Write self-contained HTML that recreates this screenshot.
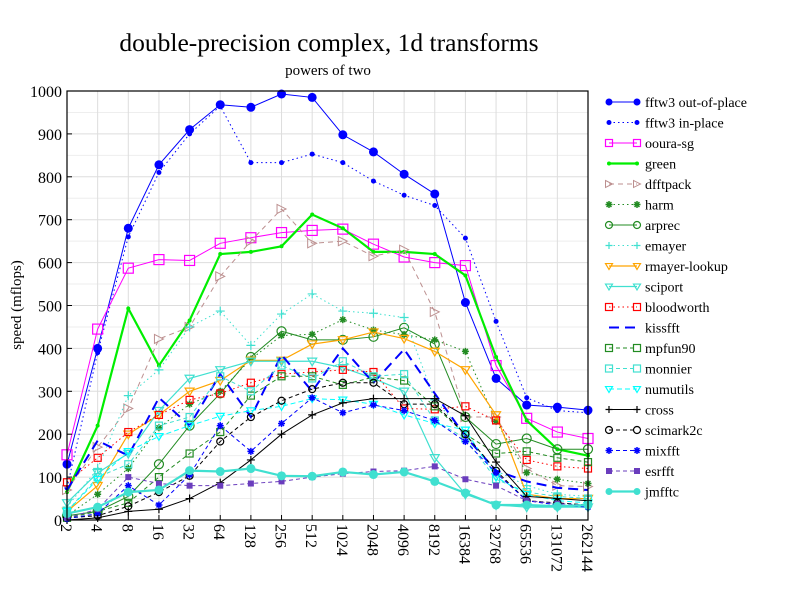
<!DOCTYPE html>
<html><head><meta charset="utf-8"><style>
body{margin:0;background:#fff;}
svg{display:block;font-family:"Liberation Serif",serif;}
</style></head><body>
<svg id="chart" width="792" height="612" viewBox="0 0 792 612" xmlns="http://www.w3.org/2000/svg">
<text x="329" y="51" font-size="25.5" text-anchor="middle">double-precision complex, 1d transforms</text>
<text x="328" y="75" font-size="15" text-anchor="middle">powers of two</text>
<text transform="translate(21,305) rotate(-90)" font-size="15" text-anchor="middle">speed (mflops)</text>
<g id="grid"></g>
<g id="series"></g>
<g id="axes"></g>
<g id="legend"></g>
</svg>
<script>
const categories=["2","4","8","16","32","64","128","256","512","1024","2048","4096","8192","16384","32768","65536","131072","262144"];
const yTicks=[0,100,200,300,400,500,600,700,800,900,1000];
const seriesNames=["fftw3 out-of-place","fftw3 in-place","ooura-sg","green","dfftpack","harm","arprec","emayer","rmayer-lookup","sciport","bloodworth","kissfft","mpfun90","monnier","numutils","cross","scimark2c","mixfft","esrfft","jmfftc"];
const fftw3Out=[130,400,680,828,910,968,962,993,985,898,858,806,760,507,330,268,263,256];
const fftw3In=[75,390,660,810,900,965,833,833,853,833,790,757,733,657,463,285,255,250];
const ooura=[152,445,587,607,605,645,658,670,675,678,643,613,600,593,360,237,205,190];
const green=[65,220,493,360,465,620,625,638,712,680,625,625,620,570,380,232,165,150];
const dfftpack=[70,170,260,422,450,568,650,725,645,650,615,630,485,240,240,120,80,78];
const harm=[10,60,120,215,270,300,375,430,433,467,443,432,420,393,230,110,95,85];
const arprec=[10,20,55,130,220,295,380,440,420,420,427,448,410,240,177,190,165,165];
const emayer=[30,120,290,350,450,487,407,480,527,487,482,472,280,200,115,80,60,55];
const rmayer=[20,80,200,245,300,325,372,372,410,420,438,423,393,350,245,60,50,50];
const sciport=[40,110,155,255,330,350,370,370,370,355,330,300,145,60,35,30,30,30];
const bloodworth=[88,145,205,245,280,295,320,340,345,350,345,260,258,265,232,140,125,120];
const kissfft=[70,185,150,285,220,340,240,385,300,400,320,398,295,195,115,90,75,70];
const mpfun90=[5,20,40,100,155,205,290,335,335,315,333,325,265,200,155,160,145,135];
const monnier=[20,100,130,220,240,335,300,360,330,370,335,340,232,190,95,65,55,50];
const numutils=[20,95,160,195,220,242,255,265,283,280,270,245,225,210,100,60,45,40];
const cross=[0,5,20,25,50,87,140,200,245,273,283,283,283,243,135,55,50,45];
const scimark=[5,10,32,65,103,183,240,278,305,320,320,270,270,200,115,45,40,35];
const mixfft=[3,15,80,35,105,220,160,225,285,250,268,255,232,183,110,45,35,30];
const esrfft=[5,25,100,85,80,80,85,90,100,108,113,115,125,95,80,45,38,35];
const jmfftc=[15,30,65,70,115,113,120,103,102,112,106,112,90,63,35,35,32,35];

const NS="http://www.w3.org/2000/svg";
const X0=67,X1=588,Y0=520,Y1=91,VMAX=1000;
function xs(i){return X0+(X1-X0)*i/(categories.length-1);}
function ys(v){return Y0-(Y0-Y1)*v/VMAX;}
function mk(tag,attrs,parent){const e=document.createElementNS(NS,tag);for(const k in attrs)e.setAttribute(k,attrs[k]);parent.appendChild(e);return e;}

const styles=[
 {d:fftw3Out,c:"#0000ff",w:1,da:"",m:"fcircle",r:4.5},
 {d:fftw3In,c:"#0000ff",w:1,da:"1.5,3",m:"fcircle",r:2.5},
 {d:ooura,c:"#ff00ff",w:1,da:"",m:"osquare",r:5},
 {d:green,c:"#00ee00",w:2.2,da:"",m:"fcircle",r:2},
 {d:dfftpack,c:"#bc8f8f",w:1,da:"5,4",m:"otri",r:4.5},
 {d:harm,c:"#228b22",w:1,da:"1.5,3",m:"star",r:3.5},
 {d:arprec,c:"#228b22",w:1,da:"",m:"ocircle",r:4.5},
 {d:emayer,c:"#40e0d0",w:1,da:"1.5,3",m:"plus",r:4.5},
 {d:rmayer,c:"#ffa500",w:1.2,da:"",m:"dtri",r:4.5},
 {d:sciport,c:"#40e0d0",w:1.2,da:"",m:"dtri",r:4.5},
 {d:bloodworth,c:"#ff0000",w:1,da:"1.5,3",m:"osquare",r:3.5},
 {d:kissfft,c:"#0000ff",w:2,da:"10,6",m:"none",r:0},
 {d:mpfun90,c:"#228b22",w:1,da:"4,3",m:"osquare",r:3.5},
 {d:monnier,c:"#40e0d0",w:1,da:"4,3",m:"osquare",r:3.5},
 {d:numutils,c:"#00ffff",w:1,da:"5,3",m:"dtri",r:4},
 {d:cross,c:"#000000",w:1,da:"",m:"plus",r:4},
 {d:scimark,c:"#000000",w:1,da:"4,3",m:"ocircle",r:3.5},
 {d:mixfft,c:"#0000ff",w:1,da:"4,3",m:"star",r:3.5},
 {d:esrfft,c:"#6a3dbd",w:1,da:"4,3",m:"fsquare",r:3},
 {d:jmfftc,c:"#40e0d0",w:2.2,da:"",m:"fcircle",r:4.5}
];

function marker(g,type,x,y,r,c){
 if(type==="fcircle")return mk("circle",{cx:x,cy:y,r:r,fill:c},g);
 if(type==="ocircle")return mk("circle",{cx:x,cy:y,r:r,fill:"none",stroke:c,"stroke-width":1.2},g);
 if(type==="osquare")return mk("rect",{x:x-r,y:y-r,width:2*r,height:2*r,fill:"none",stroke:c,"stroke-width":1.2},g);
 if(type==="fsquare")return mk("rect",{x:x-r,y:y-r,width:2*r,height:2*r,fill:c},g);
 if(type==="otri")return mk("polygon",{points:`${x-r},${y-r} ${x+r},${y} ${x-r},${y+r}`,fill:"none",stroke:c,"stroke-width":1},g);
 if(type==="dtri")return mk("polygon",{points:`${x-r},${y-r*0.7} ${x+r},${y-r*0.7} ${x},${y+r}`,fill:"none",stroke:c,"stroke-width":1.2},g);
 if(type==="plus")return mk("path",{d:`M${x-r},${y}H${x+r}M${x},${y-r}V${y+r}`,stroke:c,"stroke-width":1.2},g);
 if(type==="star")return mk("path",{d:`M${x-r},${y}H${x+r}M${x},${y-r}V${y+r}M${x-r*0.7},${y-r*0.7}L${x+r*0.7},${y+r*0.7}M${x-r*0.7},${y+r*0.7}L${x+r*0.7},${y-r*0.7}`,stroke:c,"stroke-width":1.5},g);
 return null;
}

const grid=document.getElementById("grid");
for(let v=0;v<=VMAX;v+=50){
 const ln=mk("line",{x1:X0,x2:X1,y1:ys(v),y2:ys(v),stroke:v%100?"#eeeeee":"#dddddd","stroke-width":1},grid);
 
 
}
categories.forEach((c,i)=>{
 const ln=mk("line",{x1:xs(i),x2:xs(i),y1:Y0,y2:Y1,stroke:"#dddddd","stroke-width":1},grid);
 
 
});

const sg=document.getElementById("series");
styles.forEach((s,k)=>{
 const g=mk("g",{},sg);
 
 
 const pts=s.d.map((v,i)=>xs(i)+","+ys(v)).join(" ");
 const pl=mk("polyline",{points:pts,fill:"none",stroke:s.c,"stroke-width":s.w,"stroke-dasharray":s.da},g);
 
 
 s.d.forEach((v,i)=>{
  const m=marker(g,s.m,xs(i),ys(v),s.r,s.c);
  if(m){
   
   
  }
 });
});

const ax=document.getElementById("axes");
const frame=mk("rect",{x:X0,y:Y1,width:X1-X0,height:Y0-Y1,fill:"none",stroke:"#000","stroke-width":1.2},ax);


yTicks.forEach(v=>{
 mk("line",{x1:X0,x2:X0+5,y1:ys(v),y2:ys(v),stroke:"#000"},ax);
 const t=mk("text",{x:X0-5,y:ys(v)+6,"font-size":16,"text-anchor":"end"},ax);
 t.textContent=v;
 
 
});
categories.forEach((c,i)=>{
 mk("line",{x1:xs(i),x2:xs(i),y1:Y0,y2:Y0-5,stroke:"#000"},ax);
 const t=mk("text",{transform:`translate(${xs(i)-6},${Y0+4}) rotate(90)`,"font-size":16,"text-anchor":"start"},ax);
 t.textContent=c;
 
 
});

const lg=document.getElementById("legend");
styles.forEach((s,k)=>{
 const y=102+k*20.5;
 const g=mk("g",{},lg);
 
 
 mk("line",{x1:609,x2:637,y1:y,y2:y,stroke:s.c,"stroke-width":s.w,"stroke-dasharray":s.da},g);
 marker(g,s.m,609,y,Math.min(s.r,3.5),s.c);
 marker(g,s.m,637,y,Math.min(s.r,3.5),s.c);
 const t=mk("text",{x:645,y:y+5,"font-size":14},g);
 t.textContent=seriesNames[k];
 
 
});
</script>
</body></html>
